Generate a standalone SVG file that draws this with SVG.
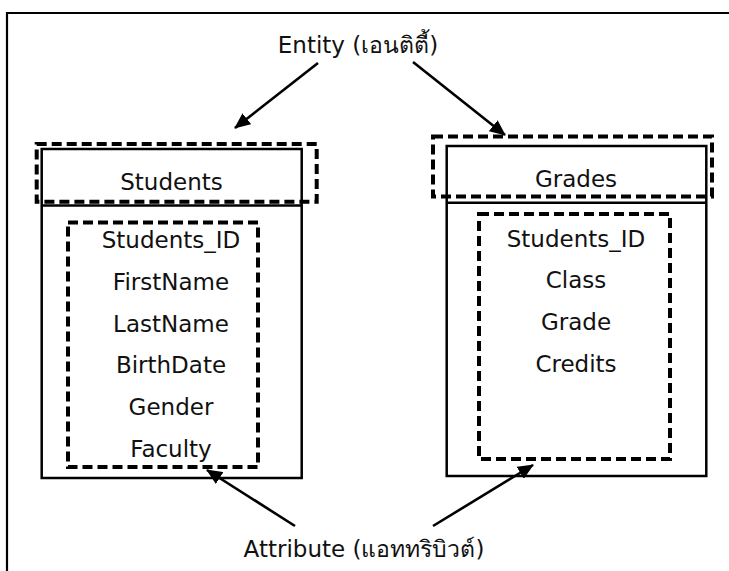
<svg xmlns="http://www.w3.org/2000/svg" width="729" height="571" viewBox="0 0 729 571">
  <defs>
    <marker id="head" markerUnits="userSpaceOnUse" markerWidth="16" markerHeight="14" refX="15" refY="7" orient="auto">
      <path d="M0,0 L16,7 L0,14 z" fill="#000"/>
    </marker>
    <style>
      .frame { fill: none; stroke: #000; stroke-width: 2.2; }
      .box { fill: #fff; stroke: #000; stroke-width: 2.5; }
      .sep { stroke: #000; stroke-width: 2.5; }
      .dash { fill: none; stroke: #000; stroke-width: 4; stroke-dasharray: 10 5; }
      .lbl { font-family: "DejaVu Sans", "Noto Sans", sans-serif; font-size: 23px; fill: #111; text-anchor: middle; }
      .big { font-family: "DejaVu Sans", "Noto Sans", sans-serif; font-size: 23px; fill: #111; text-anchor: middle; }
      .arrow { stroke: #000; stroke-width: 2.6; fill: none; marker-end: url(#head); }
    </style>
  </defs>
  <rect width="729" height="571" fill="#fff"/>
  <!-- page frame (open on right and bottom) -->
  <path class="frame" d="M7,571 V13 H729"/>

  <g id="entity-label">
    <text class="big" x="358" y="53">Entity (เอนติตี้)</text>
  </g>
  <g id="attribute-label">
    <text class="big" x="364" y="557">Attribute (แอททริบิวต์)</text>
  </g>

  <g id="students">
    <rect class="box" x="41.7" y="149" width="260" height="329"/>
    <line class="sep" x1="41.7" y1="205.5" x2="301.7" y2="205.5"/>
    <rect class="dash" x="36.7" y="144" width="280" height="57.7"/>
    <text class="lbl" x="171.5" y="190">Students</text>
    <rect class="dash" x="68" y="222.5" width="190" height="244.5"/>
    <text class="lbl" x="171" y="248">Students_ID</text>
    <text class="lbl" x="171" y="289.5">FirstName</text>
    <text class="lbl" x="171" y="331.5">LastName</text>
    <text class="lbl" x="171" y="373">BirthDate</text>
    <text class="lbl" x="171" y="415">Gender</text>
    <text class="lbl" x="171" y="456.5">Faculty</text>
  </g>

  <g id="grades">
    <rect class="box" x="446.7" y="146" width="259.6" height="330"/>
    <line class="sep" x1="446.7" y1="202.7" x2="706.3" y2="202.7"/>
    <rect class="dash" x="433" y="136.5" width="279" height="60"/>
    <text class="lbl" x="576" y="186.5">Grades</text>
    <rect class="dash" x="479" y="214" width="191" height="245"/>
    <text class="lbl" x="576" y="246.5">Students_ID</text>
    <text class="lbl" x="576" y="288">Class</text>
    <text class="lbl" x="576" y="330">Grade</text>
    <text class="lbl" x="576" y="371.5">Credits</text>
  </g>

  <g id="connectors">
    <line class="arrow" x1="318" y1="63" x2="235" y2="128"/>
    <line class="arrow" x1="413" y1="62" x2="505" y2="135"/>
    <line class="arrow" x1="295" y1="526" x2="207" y2="470"/>
    <line class="arrow" x1="433" y1="526" x2="533" y2="465"/>
  </g>
</svg>
